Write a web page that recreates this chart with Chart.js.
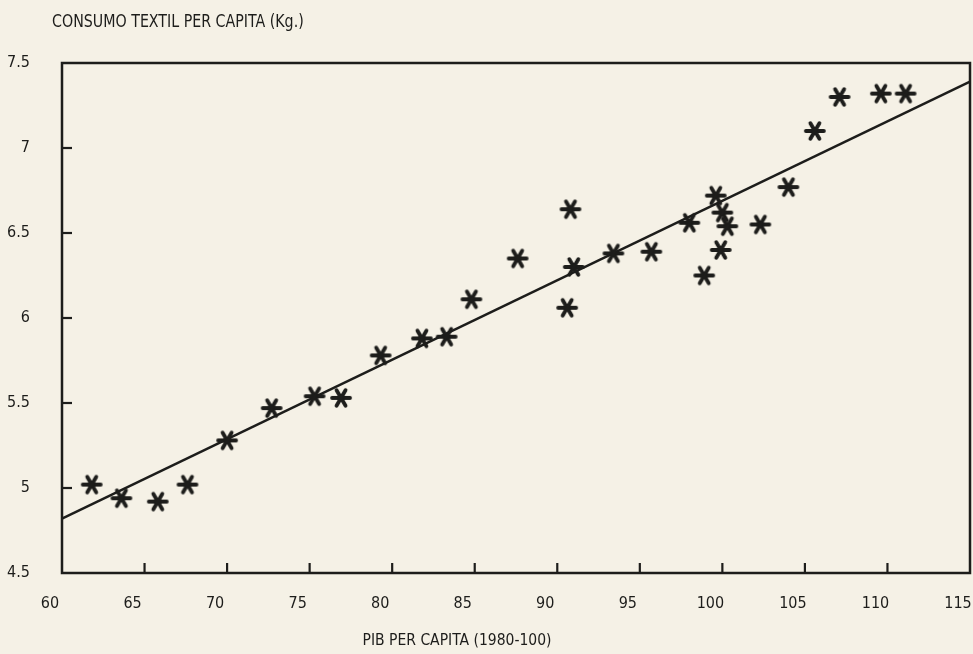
<!DOCTYPE html>
<html>
<head>
<meta charset="utf-8">
<script src="https://cdn.jsdelivr.net/npm/chart.js"></script>
<style>
  html, body { margin: 0; padding: 0; background: #f5f1e6; overflow: hidden; }
  #wrap { width: 973px; height: 654px; position: relative; overflow: hidden; }
</style>
</head>
<body>
<div id="wrap"><canvas id="chart" width="982" height="654"></canvas></div>
<script>
// PIB per capita (1980=100) vs textile consumption per capita (kg)
const pib = [61.8, 63.6, 65.8, 67.6, 70.0, 72.7, 75.3, 76.9, 79.3, 81.8,
             83.3, 84.8, 87.6, 90.6, 90.8, 91.0, 93.4, 95.7, 98.0, 98.9,
             99.6, 100.0, 100.3, 99.9, 102.3, 104.0, 105.6, 107.1, 109.6, 111.1];
const consumo = [5.02, 4.94, 4.92, 5.02, 5.28, 5.47, 5.54, 5.53, 5.78, 5.88,
                 5.89, 6.11, 6.35, 6.06, 6.64, 6.30, 6.38, 6.39, 6.56, 6.25,
                 6.72, 6.62, 6.54, 6.40, 6.55, 6.77, 7.10, 7.30, 7.32, 7.32];
// fitted trend line, end points
const fitX = [60, 115];
const fitY = [4.82, 7.39];

const xTicks = [60, 65, 70, 75, 80, 85, 90, 95, 100, 105, 110, 115];
const yTicks = [4.5, 5, 5.5, 6, 6.5, 7, 7.5];

const titleY = 'CONSUMO TEXTIL PER CAPITA (Kg.)';
const titleX = 'PIB PER CAPITA (1980-100)';

const ink = '#1d1d1b';
const fontFam = "'Liberation Sans Narrow', 'DejaVu Sans Condensed', 'Liberation Sans', sans-serif";

function makeStar() {
	const c = document.createElement('canvas');
	c.width = 24;
	c.height = 24;
	const g = c.getContext('2d');
	g.strokeStyle = ink;
	g.lineWidth = 3.8;
	g.lineCap = 'round';
	for (const a of [0, 60, 120]) {
		const r = a * Math.PI / 180;
		const dx = Math.cos(r) * 9, dy = Math.sin(r) * 9;
		g.beginPath();
		g.moveTo(12 - dx, 12 - dy);
		g.lineTo(12 + dx, 12 + dy);
		g.stroke();
	}
	return c;
}

const framePlugin = {
	id: 'frame',
	afterDatasetsDraw(chart) {
		const ctx = chart.ctx;
		const a = chart.chartArea;
		const xs = chart.scales.x, ys = chart.scales.y;
		ctx.save();
		ctx.strokeStyle = ink;
		ctx.lineWidth = 2.5;
		ctx.strokeRect(a.left, a.top, a.right - a.left, a.bottom - a.top);
		ctx.lineWidth = 2.2;
		// inner tick marks
		xTicks.slice(1, -1).forEach(v => {
			const px = xs.getPixelForValue(v);
			ctx.beginPath();
			ctx.moveTo(px, a.bottom);
			ctx.lineTo(px, a.bottom - 10);
			ctx.stroke();
		});
		yTicks.slice(1, -1).forEach(v => {
			const py = ys.getPixelForValue(v);
			ctx.beginPath();
			ctx.moveTo(a.left, py);
			ctx.lineTo(a.left + 10, py);
			ctx.stroke();
		});
		ctx.restore();
	},
	afterDraw(chart) {
		const ctx = chart.ctx;
		ctx.save();
		ctx.fillStyle = ink;
		ctx.textBaseline = 'middle';
		ctx.textAlign = 'left';
		ctx.font = '17px ' + fontFam;
		ctx.translate(52, 23);
		ctx.scale(0.93, 1);
		ctx.fillText(titleY, 0, 0);
		ctx.restore();
		ctx.save();
		ctx.fillStyle = ink;
		ctx.textBaseline = 'middle';
		ctx.font = '15.5px ' + fontFam;
		ctx.textAlign = 'center';
		ctx.fillText(titleX, 457, 641);
		ctx.restore();
	}
};

new Chart(document.getElementById('chart'), {
	type: 'scatter',
	data: {
		datasets: [{
			data: pib.map((x, i) => ({ x: x, y: consumo[i] })),
			pointStyle: makeStar(),
			pointRadius: 11,
			pointHoverRadius: 11
		}, {
			data: fitX.map((x, i) => ({ x: x, y: fitY[i] })),
			showLine: true,
			borderColor: ink,
			borderWidth: 2.5,
			pointRadius: 0
		}]
	},
	options: {
		responsive: false,
		animation: false,
		layout: { padding: { left: 0, right: 0, top: 63, bottom: 0 } },
		plugins: {
			legend: { display: false },
			tooltip: { enabled: false }
		},
		scales: {
			x: {
				type: 'linear',
				min: 60,
				max: 115,
				afterBuildTicks: s => { s.ticks = xTicks.map(v => ({ value: v })); },
				afterFit: s => { s.height = 81; s.paddingLeft = 0; s.paddingRight = 0; },
				grid: { display: false, drawTicks: false },
				border: { display: false },
				ticks: {
					color: ink,
					font: { family: fontFam, size: 16 },
					padding: 21,
					labelOffset: -12,
					maxRotation: 0
				}
			},
			y: {
				type: 'linear',
				min: 4.5,
				max: 7.5,
				afterBuildTicks: s => { s.ticks = yTicks.map(v => ({ value: v })); },
				afterFit: s => { s.width = 62; s.paddingTop = 0; s.paddingBottom = 0; },
				grid: { display: false, drawTicks: false },
				border: { display: false },
				ticks: {
					color: ink,
					font: { family: fontFam, size: 16 },
					padding: 32,
					callback: v => String(v)
				}
			}
		}
	},
	plugins: [framePlugin]
});
</script>
</body>
</html>
